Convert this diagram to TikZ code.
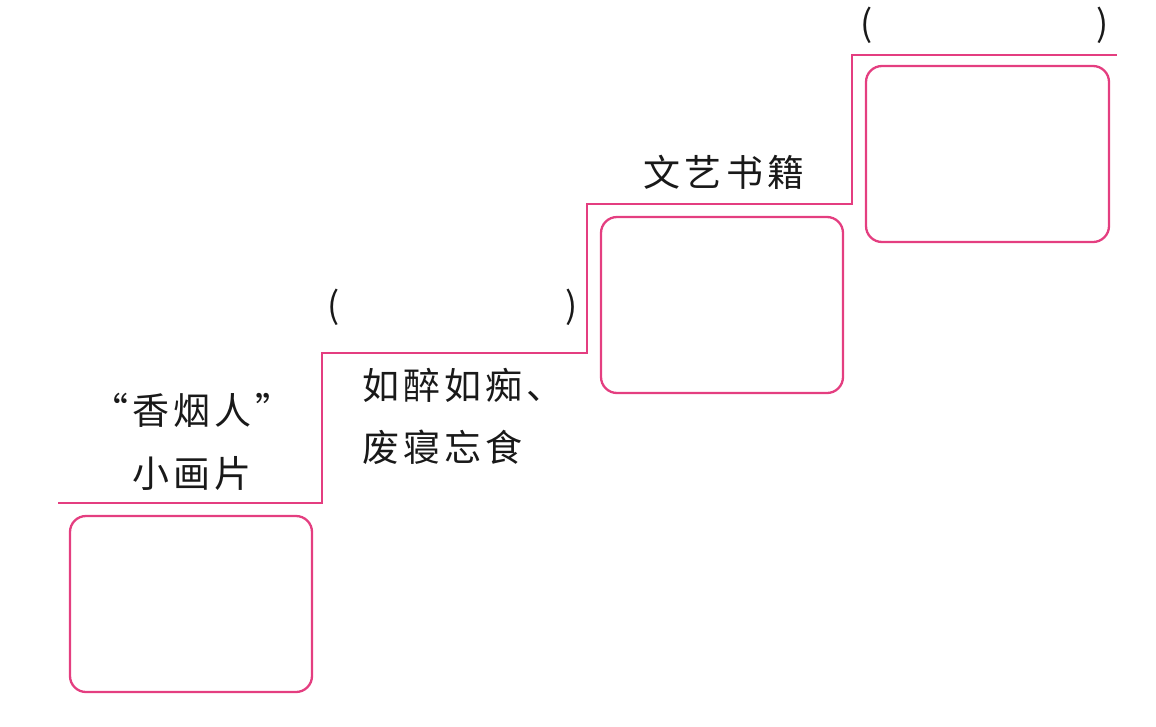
\documentclass[tikz,border=0pt]{standalone}
\usepackage{fontspec}
\newfontfamily\cjk[LetterSpace=11]{Noto Sans CJK SC}
\newfontfamily\cjkp{Noto Sans CJK SC}
\definecolor{stairpink}{RGB}{228,62,128}
\begin{document}
\begin{tikzpicture}[x=1pt,y=-1pt,
  stair/.style={draw=stairpink,line width=2.3pt},
  card/.style={draw=stairpink,line width=2.3pt,rounded corners=16pt},
  lbl/.style={inner sep=0pt,font=\cjk\fontsize{37}{44}\selectfont,text=black!90},
  par/.style={inner sep=0pt,font=\cjkp\fontsize{36}{40}\selectfont,text=black!90}]
\useasboundingbox (0,0) rectangle (1156,726);
% staircase
\coordinate (s0) at (58,503);
\coordinate (s1) at (322,503);
\coordinate (s2) at (322,353);
\coordinate (s3) at (587,353);
\coordinate (s4) at (587,204);
\coordinate (s5) at (852,204);
\coordinate (s6) at (852,55);
\coordinate (s7) at (1117,55);
\draw[stair] (s0) -- (s1) -- (s2) -- (s3) -- (s4) -- (s5) -- (s6) -- (s7);
% boxes
\draw[card] (70,516) rectangle (312,692) node[pos=0.5] (b1) {};
\draw[card] (601,217) rectangle (843,393) node[pos=0.5] (b2) {};
\draw[card] (866,66) rectangle (1109,242) node[pos=0.5] (b3) {};
% labels
\node[lbl] (t1a) at (192,410) {“香烟人”};
\node[lbl] (t1b) at (192,473) {小画片};
\node[lbl,anchor=west] (t2a) at (362,385) {如醉如痴、};
\node[lbl,anchor=west] (t2b) at (362,447) {废寝忘食};
\node[lbl] (t3) at (724,172) {文艺书籍};
\node[par] (p1) at (334,307) {(};
\node[par] (p2) at (572,307) {)};
\node[par] (p3) at (867,25) {(};
\node[par] (p4) at (1103,25) {)};
\end{tikzpicture}
\end{document}
